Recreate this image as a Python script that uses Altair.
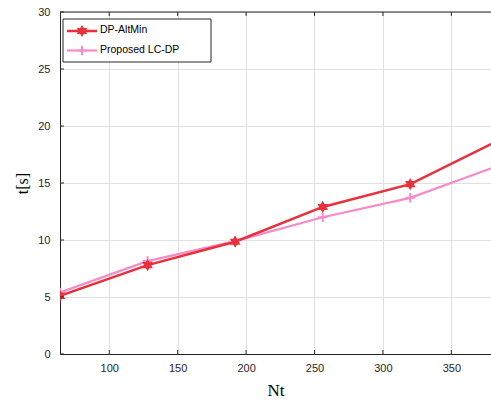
import altair as alt
import pandas as pd

nt = [64, 128, 192, 256, 320, 384]
dp_altmin = [5.1, 7.8, 9.85, 12.9, 14.9, 18.7]
lc_dp = [5.4, 8.15, 9.9, 12.0, 13.7, 16.5]
series_names = ["DP-AltMin", "Proposed LC-DP"]
x_ticks = [100, 150, 200, 250, 300, 350]
y_ticks = [0, 5, 10, 15, 20, 25, 30]

RED = "#E8313A"
PINK = "#F58BC8"
DARK = "#262626"
GRID = "#E0E0E0"
HEX = "M0,-1L0.866,0.5L-0.866,0.5Z M0,1L-0.866,-0.5L0.866,-0.5Z"
PLUS = "M-1,0L1,0M0,-1L0,1"

df_red = pd.DataFrame({"Nt": nt, "t": dp_altmin})
df_pink = pd.DataFrame({"Nt": nt, "t": lc_dp})

xscale = alt.Scale(domain=[64, 379], nice=False, zero=False)
yscale = alt.Scale(domain=[0, 30], nice=False)

xaxis = alt.Axis(values=x_ticks, grid=True, gridColor=GRID, ticks=False,
                 domainColor=DARK, labelFont="Liberation Sans", labelFontSize=11,
                 labelColor=DARK, labelPadding=8, title="Nt",
                 titleFont="Liberation Serif", titleFontSize=17,
                 titleFontWeight="normal", titleColor="#000000", titlePadding=9)
yaxis = alt.Axis(values=y_ticks, grid=True, gridColor=GRID, ticks=False,
                 domainColor=DARK, labelFont="Liberation Sans", labelFontSize=11,
                 labelColor=DARK, labelPadding=10, title="t[s]",
                 titleFont="Liberation Serif", titleFontSize=16,
                 titleFontWeight="normal", titleColor="#000000", titlePadding=7)

base_axes = alt.Chart(df_red).mark_line(opacity=0).encode(
    x=alt.X("Nt:Q", scale=xscale, axis=xaxis),
    y=alt.Y("t:Q", scale=yscale, axis=yaxis),
)

red_line = alt.Chart(df_red).mark_line(color=RED, strokeWidth=2.5, clip=True).encode(
    x=alt.X("Nt:Q", scale=xscale), y=alt.Y("t:Q", scale=yscale))
red_pts = alt.Chart(df_red).mark_point(shape=HEX, filled=True, fill=RED, color=RED,
                                       size=150, opacity=1, clip=True).encode(
    x=alt.X("Nt:Q", scale=xscale), y=alt.Y("t:Q", scale=yscale))
pink_line = alt.Chart(df_pink).mark_line(color=PINK, strokeWidth=2.2, clip=True).encode(
    x=alt.X("Nt:Q", scale=xscale), y=alt.Y("t:Q", scale=yscale))
pink_pts = alt.Chart(df_pink).mark_point(shape=PLUS, filled=False, color=PINK,
                                         strokeWidth=2, size=90, opacity=1, clip=True).encode(
    x=alt.X("Nt:Q", scale=xscale), y=alt.Y("t:Q", scale=yscale))

one = alt.Data(values=[{}])
xt = pd.DataFrame({"v": x_ticks})
yt = pd.DataFrame({"v": y_ticks})

top_frame = alt.Chart(one).mark_rule(color=DARK, strokeWidth=1).encode(
    x=alt.value(0), x2=alt.value(431), y=alt.value(0))
xt_bottom = alt.Chart(xt).mark_rule(color=DARK, strokeWidth=1).encode(
    x=alt.X("v:Q", scale=xscale), y=alt.value(342), y2=alt.value(338))
xt_top = alt.Chart(xt).mark_rule(color=DARK, strokeWidth=1).encode(
    x=alt.X("v:Q", scale=xscale), y=alt.value(0), y2=alt.value(4))
yt_left = alt.Chart(yt).mark_rule(color=DARK, strokeWidth=1).encode(
    y=alt.Y("v:Q", scale=yscale), x=alt.value(0), x2=alt.value(4))

leg_box = alt.Chart(one).mark_rect(fill="white", stroke=DARK, strokeWidth=1).encode(
    x=alt.value(3), x2=alt.value(151), y=alt.value(7), y2=alt.value(50))
leg_l1 = alt.Chart(one).mark_rule(color=RED, strokeWidth=2.5).encode(
    x=alt.value(7), x2=alt.value(37), y=alt.value(19))
leg_p1 = alt.Chart(one).mark_point(shape=HEX, filled=True, fill=RED, color=RED,
                                   size=150, opacity=1).encode(
    x=alt.value(22), y=alt.value(19))
leg_l2 = alt.Chart(one).mark_rule(color=PINK, strokeWidth=2.2).encode(
    x=alt.value(7), x2=alt.value(37), y=alt.value(38.5))
leg_p2 = alt.Chart(one).mark_point(shape=PLUS, filled=False, color=PINK,
                                   strokeWidth=2, size=90, opacity=1).encode(
    x=alt.value(22), y=alt.value(38.5))
leg_t1 = alt.Chart(one).mark_text(align="left", baseline="middle", font="Liberation Sans",
                                  fontSize=10.5, color="#000000").encode(
    x=alt.value(40), y=alt.value(18), text=alt.value(series_names[0]))
leg_t2 = alt.Chart(one).mark_text(align="left", baseline="middle", font="Liberation Sans",
                                  fontSize=10.5, color="#000000").encode(
    x=alt.value(40), y=alt.value(37.5), text=alt.value(series_names[1]))

chart = alt.layer(
    base_axes, pink_line, red_line, pink_pts, red_pts,
    top_frame, xt_bottom, xt_top, yt_left,
    leg_box, leg_l1, leg_p1, leg_l2, leg_p2, leg_t1, leg_t2,
).properties(
    width=431, height=342,
    autosize=alt.AutoSizeParams(type="none"),
    padding={"left": 60, "top": 12, "right": 0, "bottom": 49},
    background="white",
).configure_view(stroke=None)

chart.save("out.html", embed_options={"renderer": "svg", "actions": False})
